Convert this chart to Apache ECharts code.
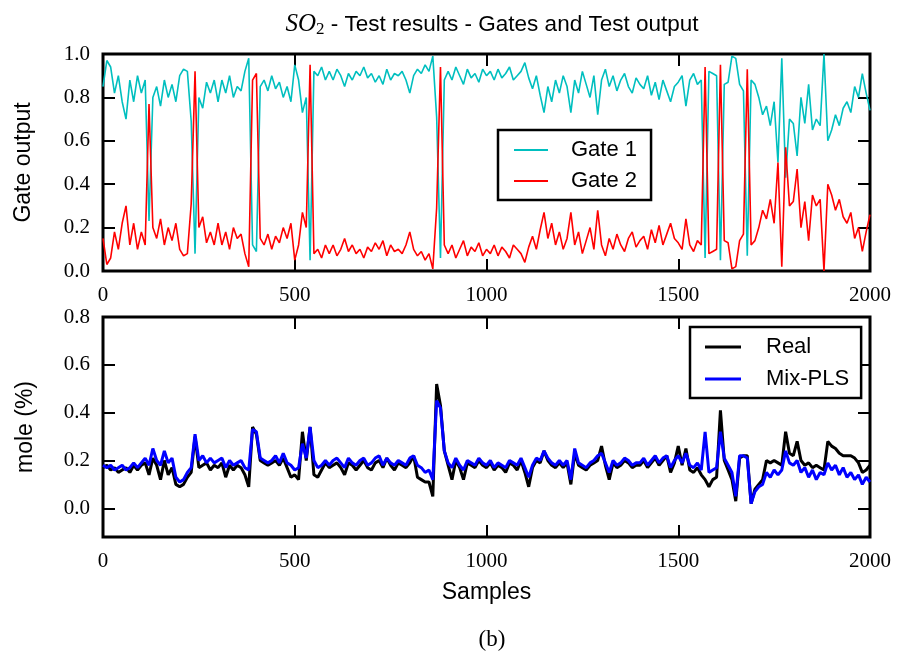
<!DOCTYPE html>
<html>
<head>
<meta charset="utf-8">
<script src="https://cdn.jsdelivr.net/npm/echarts@6/dist/echarts.min.js"></script>
<style>
html,body{margin:0;padding:0;background:#fff;}
#chart{width:901px;height:660px;}
</style>
</head>
<body>
<div id="chart"></div>
<script>
// ---- data (sample spacing = 10) ----
const sampleStep = 10;
const xTicks = [0, 500, 1000, 1500, 2000];
const gateTicks = [0.0, 0.2, 0.4, 0.6, 0.8, 1.0];
const moleTicks = [0.0, 0.2, 0.4, 0.6, 0.8];

const gate1 = [
0.85,0.97,0.94,0.82,0.90,0.78,0.70,0.88,0.78,0.90,
0.82,0.88,0.23,0.80,0.85,0.76,0.88,0.80,0.86,0.78,
0.90,0.93,0.92,0.69,0.08,0.80,0.75,0.87,0.82,0.88,
0.78,0.88,0.82,0.90,0.80,0.85,0.83,0.92,0.98,0.12,
0.09,0.85,0.88,0.83,0.90,0.84,0.87,0.80,0.85,0.78,
0.95,0.88,0.73,0.80,0.05,0.92,0.90,0.94,0.88,0.92,
0.88,0.93,0.90,0.85,0.91,0.88,0.92,0.90,0.94,0.89,
0.91,0.87,0.90,0.86,0.93,0.88,0.91,0.90,0.92,0.88,
0.82,0.90,0.93,0.91,0.95,0.92,0.99,0.71,0.06,0.88,
0.92,0.88,0.94,0.90,0.86,0.93,0.89,0.91,0.87,0.93,
0.90,0.92,0.88,0.93,0.89,0.91,0.94,0.88,0.90,0.92,
0.96,0.89,0.84,0.90,0.81,0.73,0.85,0.78,0.88,0.82,
0.90,0.85,0.73,0.88,0.82,0.92,0.86,0.80,0.90,0.72,
0.88,0.93,0.85,0.90,0.83,0.88,0.91,0.85,0.82,0.89,
0.86,0.84,0.90,0.81,0.87,0.79,0.88,0.83,0.78,0.85,
0.87,0.90,0.76,0.88,0.91,0.86,0.88,0.06,0.92,0.91,
0.90,0.05,0.86,0.87,0.99,0.98,0.86,0.83,0.07,0.88,
0.86,0.80,0.72,0.76,0.67,0.78,0.50,0.98,0.43,0.70,
0.68,0.53,0.80,0.68,0.86,0.65,0.70,0.67,1.00,0.60,
0.65,0.72,0.67,0.75,0.78,0.73,0.85,0.80,0.91,0.82,
0.74];

const gate2 = [
0.15,0.03,0.06,0.18,0.10,0.22,0.30,0.12,0.22,0.10,
0.18,0.12,0.77,0.20,0.15,0.24,0.12,0.20,0.14,0.22,
0.10,0.07,0.08,0.31,0.92,0.20,0.25,0.13,0.18,0.12,
0.22,0.12,0.18,0.10,0.20,0.15,0.17,0.08,0.02,0.88,
0.91,0.15,0.12,0.17,0.10,0.16,0.13,0.20,0.15,0.22,
0.05,0.12,0.27,0.20,0.95,0.08,0.10,0.06,0.12,0.08,
0.12,0.07,0.10,0.15,0.09,0.12,0.08,0.10,0.06,0.11,
0.09,0.13,0.10,0.14,0.07,0.12,0.09,0.10,0.08,0.12,
0.18,0.10,0.07,0.09,0.05,0.08,0.01,0.29,0.94,0.12,
0.08,0.12,0.06,0.10,0.14,0.07,0.11,0.09,0.13,0.07,
0.10,0.08,0.12,0.07,0.11,0.09,0.06,0.12,0.10,0.08,
0.04,0.11,0.16,0.10,0.19,0.27,0.15,0.22,0.12,0.18,
0.10,0.15,0.27,0.12,0.18,0.08,0.14,0.20,0.10,0.28,
0.12,0.07,0.15,0.10,0.17,0.12,0.09,0.15,0.18,0.11,
0.14,0.16,0.10,0.19,0.13,0.21,0.12,0.17,0.22,0.15,
0.13,0.10,0.24,0.12,0.09,0.14,0.12,0.94,0.08,0.09,
0.10,0.95,0.14,0.13,0.01,0.02,0.14,0.17,0.93,0.12,
0.14,0.20,0.28,0.24,0.33,0.22,0.50,0.02,0.57,0.30,
0.32,0.47,0.20,0.32,0.14,0.35,0.30,0.33,0.00,0.40,
0.35,0.28,0.33,0.25,0.22,0.27,0.15,0.20,0.09,0.18,
0.26];

const realOut = [
0.17,0.18,0.16,0.17,0.15,0.16,0.17,0.15,0.18,0.16,
0.18,0.19,0.14,0.21,0.18,0.12,0.20,0.14,0.17,0.10,
0.09,0.10,0.13,0.15,0.30,0.17,0.18,0.19,0.16,0.18,
0.17,0.19,0.13,0.18,0.16,0.18,0.17,0.14,0.09,0.34,
0.31,0.20,0.19,0.18,0.19,0.20,0.18,0.21,0.17,0.13,
0.14,0.12,0.32,0.20,0.34,0.14,0.13,0.16,0.19,0.17,
0.18,0.19,0.17,0.14,0.19,0.18,0.16,0.18,0.20,0.17,
0.16,0.19,0.20,0.17,0.21,0.18,0.16,0.19,0.18,0.17,
0.19,0.22,0.13,0.12,0.11,0.11,0.05,0.52,0.43,0.24,
0.18,0.12,0.20,0.17,0.12,0.19,0.18,0.17,0.20,0.18,
0.17,0.19,0.16,0.18,0.17,0.15,0.19,0.18,0.16,0.20,
0.15,0.09,0.17,0.20,0.19,0.24,0.20,0.18,0.17,0.19,
0.17,0.19,0.10,0.23,0.18,0.17,0.16,0.18,0.19,0.20,
0.26,0.18,0.12,0.19,0.17,0.18,0.20,0.19,0.17,0.18,
0.18,0.20,0.17,0.19,0.21,0.18,0.20,0.22,0.15,0.19,
0.26,0.18,0.25,0.16,0.15,0.17,0.14,0.12,0.09,0.12,
0.13,0.41,0.20,0.16,0.12,0.03,0.21,0.22,0.22,0.02,
0.08,0.10,0.12,0.20,0.19,0.20,0.19,0.18,0.32,0.23,
0.22,0.28,0.20,0.18,0.19,0.17,0.18,0.17,0.16,0.28,
0.26,0.25,0.23,0.22,0.22,0.22,0.21,0.19,0.15,0.16,
0.18];

const mixPls = [
0.18,0.17,0.18,0.16,0.17,0.18,0.16,0.17,0.19,0.17,
0.19,0.21,0.18,0.25,0.20,0.18,0.24,0.19,0.21,0.13,
0.11,0.12,0.15,0.17,0.31,0.20,0.22,0.19,0.21,0.19,
0.20,0.21,0.17,0.20,0.18,0.19,0.20,0.17,0.16,0.33,
0.32,0.21,0.20,0.19,0.20,0.22,0.19,0.23,0.19,0.18,
0.16,0.17,0.27,0.21,0.34,0.20,0.17,0.18,0.20,0.18,
0.20,0.21,0.19,0.17,0.21,0.19,0.18,0.20,0.21,0.18,
0.19,0.21,0.22,0.18,0.21,0.19,0.18,0.20,0.19,0.18,
0.21,0.22,0.18,0.17,0.15,0.16,0.12,0.45,0.42,0.24,
0.19,0.17,0.21,0.18,0.16,0.20,0.19,0.18,0.21,0.19,
0.18,0.20,0.17,0.19,0.18,0.17,0.20,0.19,0.18,0.21,
0.17,0.13,0.18,0.21,0.20,0.24,0.21,0.19,0.18,0.20,
0.18,0.20,0.12,0.25,0.19,0.18,0.17,0.19,0.20,0.22,
0.23,0.19,0.15,0.20,0.18,0.19,0.21,0.20,0.18,0.19,
0.19,0.21,0.18,0.20,0.22,0.19,0.21,0.22,0.17,0.20,
0.22,0.19,0.23,0.18,0.17,0.19,0.16,0.32,0.15,0.16,
0.17,0.32,0.21,0.18,0.15,0.05,0.22,0.22,0.21,0.02,
0.07,0.09,0.10,0.15,0.13,0.16,0.14,0.16,0.24,0.19,
0.18,0.20,0.15,0.17,0.13,0.16,0.12,0.15,0.14,0.19,
0.16,0.18,0.14,0.17,0.13,0.15,0.12,0.14,0.10,0.13,
0.11];

// ---- chart ----
const SANS = '"Liberation Sans", Arial, sans-serif';
const SERIF = '"Liberation Serif", "Times New Roman", serif';
const toPairs = arr => arr.map((v, i) => [i * sampleStep, v]);

const chart = echarts.init(document.getElementById('chart'), null, {renderer: 'canvas'});

const tickStyle = {show: true, inside: true, length: 12, lineStyle: {color: '#000', width: 2}};
const noLine = {show: false, onZero: false};
const xBase = {type: 'value', min: 0, max: 2000, interval: 500, splitLine: {show: false}, axisLine: noLine};
const xLabel = {color: '#000', fontFamily: SERIF, fontSize: 21, margin: 14, formatter: v => String(v)};
const yLabel = {color: '#000', fontFamily: SERIF, fontSize: 21, margin: 13, formatter: v => v.toFixed(1)};
const nameStyle = {fontFamily: SANS, fontSize: 23, color: '#000'};

const option = {
  backgroundColor: '#fff',
  animation: false,
  title: [
    {
      text: '{m|SO}{s|2}{t| - Test results - Gates and Test output}',
      left: 487, top: 6, textAlign: 'center',
      textStyle: {
        fontWeight: 'normal',
        rich: {
          m: {fontFamily: SERIF, fontStyle: 'italic', fontWeight: 'normal', fontSize: 25, color: '#000'},
          s: {fontFamily: SERIF, fontWeight: 'normal', fontSize: 17, color: '#000', padding: [10, 0, 0, 0]},
          t: {fontFamily: SANS, fontWeight: 'normal', fontSize: 22.5, color: '#000'}
        }
      }
    },
    {
      text: '(b)', left: 487, top: 623, textAlign: 'center',
      textStyle: {fontFamily: SERIF, fontSize: 23, fontWeight: 'normal', color: '#000'}
    }
  ],
  legend: [
    {
      data: [{name: 'Gate 1'}, {name: 'Gate 2'}],
      orient: 'vertical', left: 498, top: 130,
      icon: 'rect', itemWidth: 34, itemHeight: 2, itemGap: 9,
      padding: [9, 14, 8, 16],
      borderColor: '#000', borderWidth: 2.5, borderRadius: 0,
      backgroundColor: '#fff',
      textStyle: {fontFamily: SANS, fontSize: 22, color: '#000', padding: [0, 0, 0, 18]}
    },
    {
      data: [{name: 'Real'}, {name: 'Mix-PLS'}],
      orient: 'vertical', left: 690, top: 327,
      icon: 'rect', itemWidth: 36, itemHeight: 3, itemGap: 10,
      padding: [9, 12, 8, 15],
      borderColor: '#000', borderWidth: 2.5, borderRadius: 0,
      backgroundColor: '#fff',
      textStyle: {fontFamily: SANS, fontSize: 22, color: '#000', padding: [0, 0, 0, 20]}
    }
  ],
  grid: [
    {left: 103, top: 54, width: 767, height: 217, show: true, borderColor: '#000', borderWidth: 3, backgroundColor: 'transparent'},
    {left: 103, top: 317, width: 767, height: 220, show: true, borderColor: '#000', borderWidth: 3, backgroundColor: 'transparent'}
  ],
  xAxis: [
    Object.assign({}, xBase, {gridIndex: 0, position: 'bottom', axisTick: tickStyle, axisLabel: xLabel}),
    Object.assign({}, xBase, {gridIndex: 0, position: 'top', axisTick: tickStyle, axisLabel: {show: false}}),
    Object.assign({}, xBase, {gridIndex: 1, position: 'bottom', axisTick: tickStyle, axisLabel: xLabel,
      name: 'Samples', nameLocation: 'middle', nameGap: 44, nameTextStyle: nameStyle}),
    Object.assign({}, xBase, {gridIndex: 1, position: 'top', axisTick: tickStyle, axisLabel: {show: false}})
  ],
  yAxis: [
    {type: 'value', gridIndex: 0, position: 'left', min: 0, max: 1, interval: 0.2,
      splitLine: {show: false}, axisLine: noLine, axisTick: tickStyle, axisLabel: yLabel,
      name: 'Gate output', nameLocation: 'middle', nameGap: 68, nameTextStyle: nameStyle},
    {type: 'value', gridIndex: 0, position: 'right', min: 0, max: 1, interval: 0.2,
      splitLine: {show: false}, axisLine: noLine, axisTick: tickStyle, axisLabel: {show: false}},
    {type: 'value', gridIndex: 1, position: 'left', min: -0.12, max: 0.8,
      splitLine: {show: false}, axisLine: noLine,
      axisTick: Object.assign({}, tickStyle, {customValues: moleTicks}),
      axisLabel: Object.assign({}, yLabel, {customValues: moleTicks}),
      name: 'mole (%)', nameLocation: 'middle', nameGap: 66, nameTextStyle: nameStyle},
    {type: 'value', gridIndex: 1, position: 'right', min: -0.12, max: 0.8,
      splitLine: {show: false}, axisLine: noLine,
      axisTick: Object.assign({}, tickStyle, {customValues: moleTicks}), axisLabel: {show: false}}
  ],
  series: [
    {name: 'Gate 1', type: 'line', xAxisIndex: 0, yAxisIndex: 0, data: toPairs(gate1),
      showSymbol: false, symbol: 'none', color: '#00BFBF', lineStyle: {color: '#00BFBF', width: 1.6}},
    {name: 'Gate 2', type: 'line', xAxisIndex: 0, yAxisIndex: 0, data: toPairs(gate2),
      showSymbol: false, symbol: 'none', color: '#FF0000', lineStyle: {color: '#FF0000', width: 1.6}},
    {name: 'Real', type: 'line', xAxisIndex: 2, yAxisIndex: 2, data: toPairs(realOut),
      showSymbol: false, symbol: 'none', color: '#000000', lineStyle: {color: '#000000', width: 3}},
    {name: 'Mix-PLS', type: 'line', xAxisIndex: 2, yAxisIndex: 2, data: toPairs(mixPls),
      showSymbol: false, symbol: 'none', color: '#0000FF', lineStyle: {color: '#0000FF', width: 3}}
  ]
};
chart.setOption(option);
</script>
</body>
</html>
